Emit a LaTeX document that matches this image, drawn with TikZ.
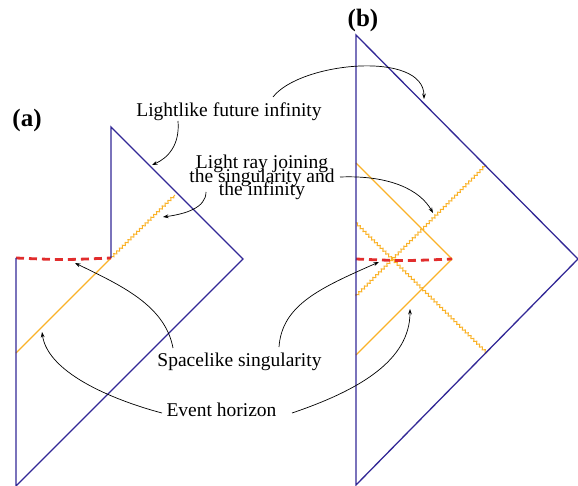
\documentclass[tikz,border=0pt]{standalone}
\usepackage{fontspec}
\setmainfont{Liberation Serif}
\usetikzlibrary{arrows.meta,decorations.pathmorphing}
\definecolor{penrose}{RGB}{50,40,150}
\definecolor{horizon}{RGB}{250,178,40}
\definecolor{sing}{RGB}{225,45,45}
\begin{document}
\begin{tikzpicture}[x=1pt,y=-1pt,
  boundary/.style={penrose, line width=1.3pt, line join=miter},
  horizonline/.style={horizon, line width=1.1pt},
  rayline/.style={horizon, line width=1pt, decorate,
    decoration={zigzag, segment length=4pt, amplitude=1.2pt}},
  singline/.style={sing, line width=2.8pt, dash pattern=on 8pt off 5pt},
  callout/.style={-{Stealth[length=5.5pt,width=3.8pt]}, line width=0.7pt, black},
  lbl/.style={font={\fontsize{19.5}{13.3}\selectfont\lineskiplimit -50pt\lineskip 0pt\relax}, inner sep=0pt},
  panel/.style={font={\fontsize{25}{30}\selectfont\bfseries}, inner sep=0pt}]
\useasboundingbox (0,0) rectangle (578,486);

% ---- diagram (a)
\coordinate (aB) at (16,486);
\coordinate (aR) at (243,259);
\coordinate (aT) at (111,127);
\coordinate (aK) at (111,258);
\coordinate (aL) at (16,258);
\coordinate (aH) at (16,353);
\coordinate (aW) at (175,195);
\draw[rayline] (aK) -- (aW);
\draw[horizonline] (aK) -- (aH);
\draw[singline] (aL) .. controls (63,260) .. (aK);
\draw[boundary] (aL) -- (aB) -- (aR) -- (aT) -- (aK);

% ---- diagram (b)
\coordinate (bT) at (356,35);
\coordinate (bB) at (356,485);
\coordinate (bR) at (578,259);
\coordinate (bH1) at (356,163);
\coordinate (bV) at (452,259);
\coordinate (bH2) at (356,355);
\coordinate (bSL) at (356,259);
\coordinate (bW1a) at (356,296);
\coordinate (bW1b) at (485,166);
\coordinate (bW2a) at (356,223);
\coordinate (bW2b) at (487,353);
\draw[rayline] (bW1a) -- (bW1b);
\draw[rayline] (bW2a) -- (bW2b);
\draw[horizonline] (bH1) -- (bV) -- (bH2);
\draw[singline] (bSL) .. controls (404,261) .. (bV);
\draw[boundary] (bT) -- (bR) -- (bB) -- cycle;

% ---- labels
\node[panel, anchor=base] (pa) at (27,127) {(a)};
\node[panel, anchor=base] (pb) at (363,27) {(b)};
\node[lbl, anchor=base] (lfi) at (229,117) {Lightlike future infinity};
\node[lbl, anchor=north, align=center] (lr) at (262,155)
  {Light ray joining\\the singularity and\\the infinity};
\node[lbl, anchor=base] (ss) at (239.5,366) {Spacelike singularity};
\node[lbl, anchor=base] (eh) at (221.5,416) {Event horizon};

% ---- callout end points
\coordinate (c1s) at (178,121);  \coordinate (c1e) at (152,165);
\coordinate (c2s) at (273,97);   \coordinate (c2e) at (424,99);
\coordinate (c3s) at (206,192);  \coordinate (c3e) at (163,217);
\coordinate (c4s) at (340,177);  \coordinate (c4e) at (433,213);
\coordinate (c5s) at (173,348);  \coordinate (c5e) at (75,263);
\coordinate (c6s) at (279,347);  \coordinate (c6e) at (379,262);
\coordinate (c7s) at (162,413);  \coordinate (c7e) at (42,332);
\coordinate (c8s) at (292,413);  \coordinate (c8e) at (410,309);

\draw[callout] (c1s) .. controls (180,145) and (168,158) .. (c1e);
\draw[callout] (c2s) .. controls (300,62) and (424,50) .. (c2e);
\draw[callout] (c3s) .. controls (206,208) and (185,214) .. (c3e);
\draw[callout] (c4s) .. controls (390,175) and (420,190) .. (c4e);
\draw[callout] (c5s) .. controls (165,305) and (120,285) .. (c5e);
\draw[callout] (c6s) .. controls (282,305) and (320,288) .. (c6e);
\draw[callout] (c7s) .. controls (120,402) and (48,375) .. (c7e);
\draw[callout] (c8s) .. controls (360,390) and (410,360) .. (c8e);
\end{tikzpicture}
\end{document}
